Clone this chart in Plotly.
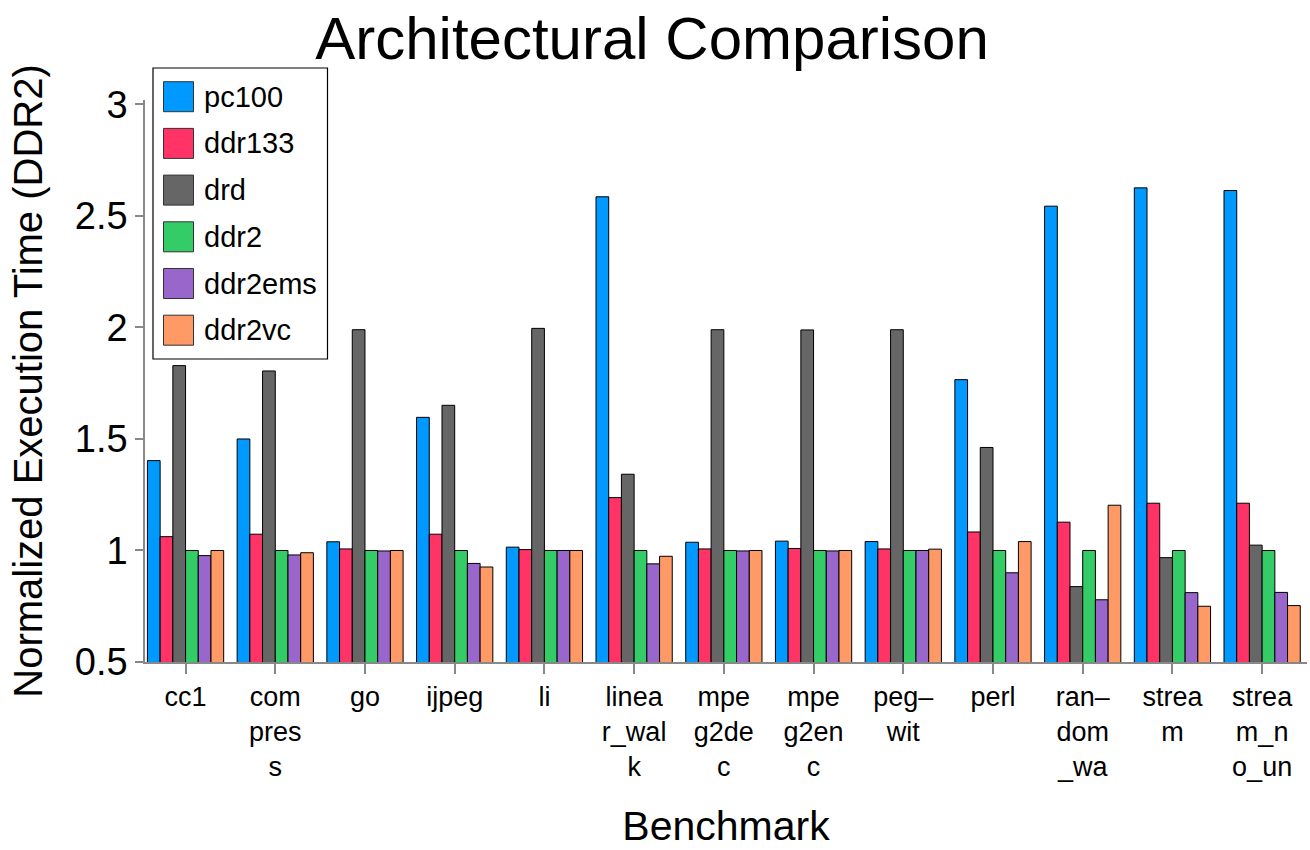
import plotly.graph_objects as go

# ---- data ----
tick_labels = ["cc1", "com<br>pres<br>s", "go", "ijpeg", "li", "linea<br>r_wal<br>k",
               "mpe<br>g2de<br>c", "mpe<br>g2en<br>c", "peg–<br>wit", "perl",
               "ran–<br>dom<br>_wa", "strea<br>m", "strea<br>m_n<br>o_un"]
series_names = ["pc100", "ddr133", "drd", "ddr2", "ddr2ems", "ddr2vc"]
pc100 = [1.403, 1.50, 1.039, 1.597, 1.015, 2.586, 1.037, 1.042, 1.040, 1.766, 2.544, 2.626, 2.614]
ddr133 = [1.062, 1.073, 1.007, 1.073, 1.004, 1.237, 1.007, 1.009, 1.007, 1.083, 1.127, 1.212, 1.212]
drd = [1.829, 1.805, 1.990, 1.651, 1.996, 1.342, 1.990, 1.989, 1.990, 1.462, 0.838, 0.968, 1.024]
ddr2 = [1.0, 1.0, 1.0, 1.0, 1.0, 1.0, 1.0, 1.0, 1.0, 1.0, 1.0, 1.0, 1.0]
ddr2ems = [0.977, 0.980, 0.998, 0.942, 1.0, 0.940, 0.998, 0.998, 1.0, 0.900, 0.779, 0.811, 0.812]
ddr2vc = [1.0, 0.990, 1.0, 0.926, 1.0, 0.974, 1.0, 1.0, 1.006, 1.040, 1.203, 0.750, 0.753]
series_values = [pc100, ddr133, drd, ddr2, ddr2ems, ddr2vc]
colors = ["#0099FF", "#FF3366", "#666666", "#33CC66", "#9966CC", "#FF9966"]

FONT = "Liberation Sans, Arial, sans-serif"
W, H = 1310, 850
L, R, T, B = 145, 3, 100, 188
PW, PH = W - L - R, H - T - B

fig = go.Figure()
xs = list(range(len(tick_labels)))
for name, vals, col in zip(series_names, series_values, colors):
    fig.add_trace(go.Bar(
        x=xs, y=vals, name=name,
        marker=dict(color=col, line=dict(color="black", width=1)),
        showlegend=False,
    ))

# ---- manual legend (large swatches); positions given in page pixels ----
def px2x(px):
    return (px - L) / PW

def py2y(py):
    return (H - B - py) / PH

shapes = [dict(type="rect", xref="paper", yref="paper",
               x0=px2x(153), x1=px2x(327.5), y0=py2y(359), y1=py2y(68),
               line=dict(color="black", width=1.2), fillcolor="white", layer="above")]
annotations = []
for i, (name, col) in enumerate(zip(series_names, colors)):
    cy = 96.7 + 46.7 * i
    shapes.append(dict(type="rect", xref="paper", yref="paper",
                       x0=px2x(163.5), x1=px2x(193.5), y0=py2y(cy + 15), y1=py2y(cy - 15),
                       line=dict(color="#333333", width=1), fillcolor=col, layer="above"))
    annotations.append(dict(xref="paper", yref="paper", x=px2x(202), y=py2y(cy),
                            xanchor="left", yanchor="middle", showarrow=False,
                            text=name, font=dict(family=FONT, size=29, color="black")))

fig.update_layout(
    width=W, height=H,
    margin=dict(l=L, r=R, t=T, b=B, autoexpand=False),
    paper_bgcolor="white", plot_bgcolor="white",
    barmode="group", bargap=0.15, bargroupgap=0,
    title=dict(text="Architectural Comparison", x=652 / W, xanchor="center",
               y=1 - 38 / H, yanchor="middle", yref="container",
               font=dict(family=FONT, size=60, color="black")),
    font=dict(family=FONT, color="black"),
    shapes=shapes, annotations=annotations,
    xaxis=dict(
        tickmode="array", tickvals=xs, ticktext=tick_labels,
        range=[-0.452, 12.5],
        showline=True, linecolor="#888888", linewidth=1.5,
        ticks="outside", ticklen=10, tickcolor="#888888", tickwidth=1.5,
        tickfont=dict(family=FONT, size=27, color="black"),
        showgrid=False, zeroline=False,
        title=dict(text="Benchmark", font=dict(family=FONT, size=41, color="black"), standoff=30),
    ),
    yaxis=dict(
        range=[0.5, 3.02],
        tickmode="array", tickvals=[0.5, 1.0, 1.5, 2.0, 2.5, 3.0],
        ticktext=["0.5", "1", "1.5", "2", "2.5", "3"],
        showline=True, linecolor="#888888", linewidth=1.5,
        ticks="outside", ticklen=8, tickcolor="#888888", tickwidth=1.5,
        tickfont=dict(family=FONT, size=38, color="black"),
        showgrid=False, zeroline=False,
        title=dict(text="Normalized Execution Time (DDR2)",
                   font=dict(family=FONT, size=40, color="black"), standoff=20),
    ),
)

fig.write_html("out.html", config={"displayModeBar": False},
               post_script="document.body.style.margin='0';")
